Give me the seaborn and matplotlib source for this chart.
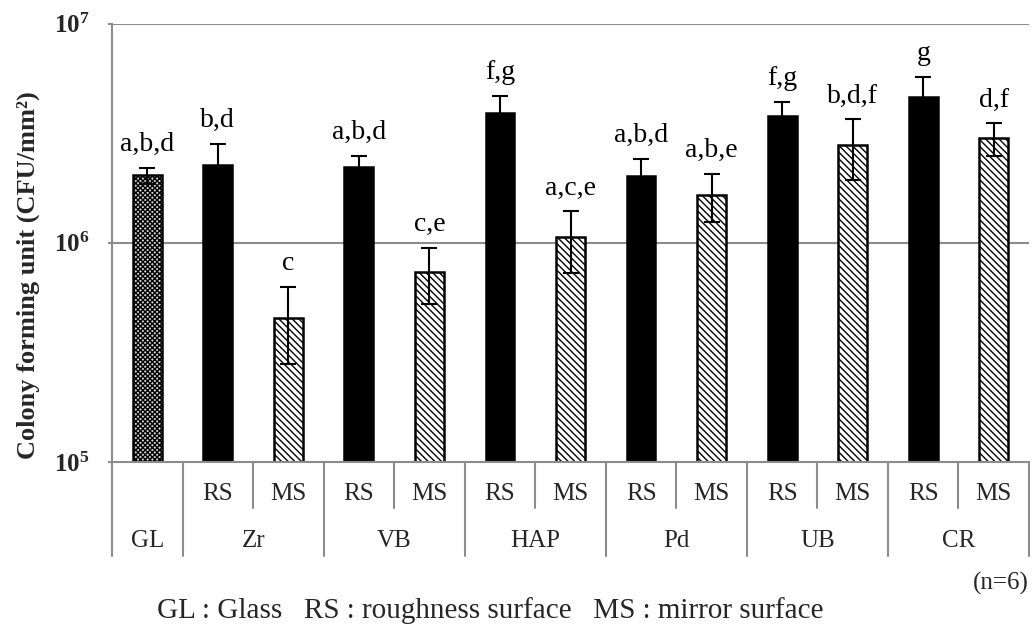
import numpy as np
import pandas as pd
import matplotlib
matplotlib.use("Agg")
import matplotlib.pyplot as plt
import matplotlib.transforms as mtransforms
import seaborn as sns

# ---- data ----
groups = ["GL", "Zr", "Zr", "VB", "VB", "HAP", "HAP", "Pd", "Pd", "UB", "UB", "CR", "CR"]
surfaces = ["", "RS", "MS", "RS", "MS", "RS", "MS", "RS", "MS", "RS", "MS", "RS", "MS"]
values = [2.03e6, 2.26e6, 4.55e5, 2.22e6, 7.36e5, 3.92e6, 1.06e6, 2.02e6, 1.65e6, 3.79e6, 2.79e6, 4.64e6, 3.00e6]
errors = [0.17e6, 0.56e6, 1.75e5, 0.28e6, 0.21e6, 0.76e6, 0.33e6, 0.40e6, 0.41e6, 0.60e6, 0.86e6, 1.06e6, 0.50e6]
letters = ["a,b,d", "b,d", "c", "a,b,d", "c,e", "f,g", "a,c,e", "a,b,d", "a,b,e", "f,g", "b,d,f", "g", "d,f"]
group_names = ["GL", "Zr", "VB", "HAP", "Pd", "UB", "CR"]
ytick_vals = [1e5, 1e6, 1e7]
ytick_labels = [r"$\mathbf{10^{5}}$", r"$\mathbf{10^{6}}$", r"$\mathbf{10^{7}}$"]

sns.set_theme(style="white")
plt.rcParams["font.family"] = ["Liberation Serif", "DejaVu Serif"]
plt.rcParams["mathtext.fontset"] = "custom"
plt.rcParams["mathtext.rm"] = "Liberation Serif"
plt.rcParams["mathtext.bf"] = "Liberation Serif:bold"
plt.rcParams["hatch.linewidth"] = 1.0

W, H = 1033, 628
fig = plt.figure(figsize=(W / 100, H / 100), dpi=100)
ax_left, ax_right, ax_top, ax_bot = 112, 1029, 23.5, 462
ax = fig.add_axes([ax_left / W, 1 - ax_bot / H, (ax_right - ax_left) / W, (ax_bot - ax_top) / H])
ax.set_yscale("log")

labels = [f"{g}{s}" for g, s in zip(groups, surfaces)]
df = pd.DataFrame({"label": labels, "value": values})
kinds = ["GL" if s == "" else s for s in surfaces]
color_map = {"GL": "#d2d2d2", "RS": "#000000", "MS": "#ffffff"}
palette = [color_map[k] for k in kinds]

sns.barplot(data=df, x="label", y="value", hue="label", palette=palette, legend=False,
            order=labels, hue_order=labels, width=0.41, edgecolor="black", linewidth=1.8,
            errorbar=None, saturation=1, ax=ax)

for patch, k in zip(ax.patches, kinds):
    patch.set_edgecolor("black")
    patch.set_linewidth(1.8)
    if k == "MS":
        patch.set_hatch("\\\\\\\\\\")
    elif k == "GL":
        patch.set_hatch("xxxxxxx")

x = np.arange(len(labels))
ax.errorbar(x, values, yerr=errors, fmt="none", ecolor="black", elinewidth=1.5,
            capsize=5.5, capthick=1.5, zorder=5)

for xi, v, e, t in zip(x, values, errors, letters):
    ax.annotate(t, xy=(xi, v + e), xytext=(0, 12), textcoords="offset points",
                ha="center", va="baseline", fontsize=20, color="black")

ax.set_xlim(-0.5, len(labels) - 0.5)
ax.set_ylim(1e5, 1e7)
ax.set_yticks(ytick_vals)
ax.set_yticklabels(ytick_labels, fontsize=18)
ax.yaxis.set_minor_locator(matplotlib.ticker.NullLocator())
ax.tick_params(axis="y", which="major", length=3, width=1.5, color="#8c8c8c", pad=13, left=True)
ax.set_xticks([])
ax.set_xlabel("")
ax.set_ylabel("Colony forming unit (CFU/mm²)", fontsize=19, fontweight="bold")
ax.yaxis.set_label_coords(-0.078, (462 - 275) / (462 - 23.5))

grid_c = "#8c8c8c"
ax.grid(False)
for yv in ytick_vals[1:]:
    ax.axhline(yv, color=grid_c, lw=1.5, zorder=0)
for s in ["top", "right"]:
    ax.spines[s].set_visible(False)
for s in ["left", "bottom"]:
    ax.spines[s].set_color(grid_c)
    ax.spines[s].set_linewidth(1.5)

# multi-level category axis
tr = mtransforms.blended_transform_factory(ax.transData, fig.transFigure)
def fy(py):
    return 1 - py / H

boundaries_full = [-0.5, 0.5, 2.5, 4.5, 6.5, 8.5, 10.5, 12.5]
boundaries_short = [1.5, 3.5, 5.5, 7.5, 9.5, 11.5]
for b in boundaries_full:
    fig.add_artist(plt.Line2D([b, b], [fy(462), fy(556)], transform=tr, color=grid_c, lw=1.5))
for b in boundaries_short:
    fig.add_artist(plt.Line2D([b, b], [fy(462), fy(508)], transform=tr, color=grid_c, lw=1.5))

for xi, s in zip(x, surfaces):
    if s:
        fig.text(xi, fy(494), s, transform=tr, ha="center", va="center", fontsize=18)

centers = {}
for xi, g in zip(x, groups):
    centers.setdefault(g, []).append(xi)
for g in group_names:
    fig.text(np.mean(centers[g]), fy(541), g, transform=tr, ha="center", va="center", fontsize=18)

fig.text(1029 / W, fy(583), "(n=6)", ha="right", va="center", fontsize=18)
fig.text(490 / W, fy(611), "GL : Glass   RS : roughness surface   MS : mirror surface",
         ha="center", va="center", fontsize=21)

fig.savefig("out.png", dpi=100)
